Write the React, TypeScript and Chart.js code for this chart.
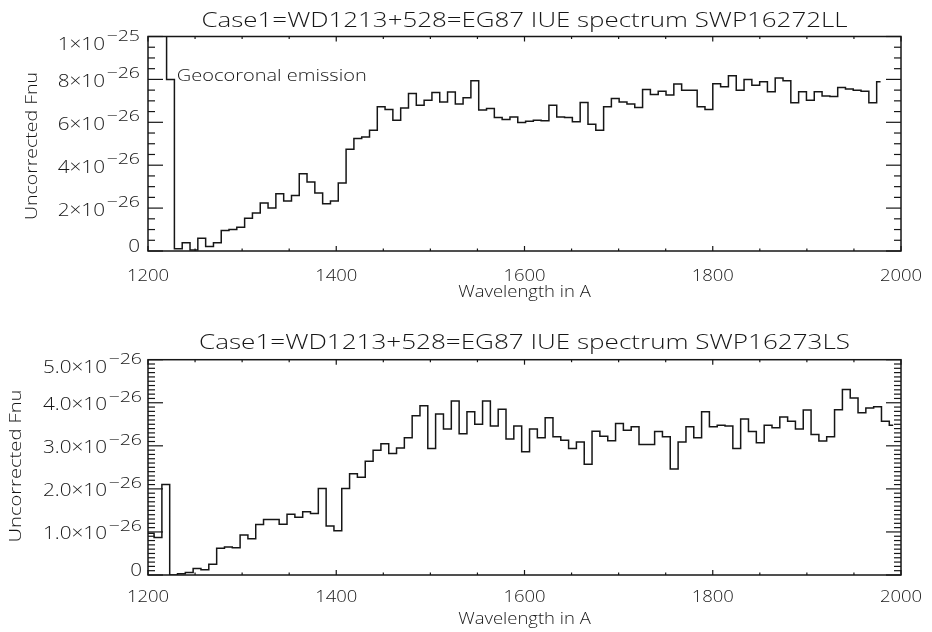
import React, { useEffect, useRef } from "react";
import { Chart, registerables } from "chart.js";

Chart.register(...registerables);

// ---- Data: SWP16272LL (top panel), bin centres in Angstrom, flux in units of 1e-26 ----
const WAVE_TOP = [
  1199.0, 1207.3, 1215.6, 1223.9,
  1232.2, 1240.5, 1248.8, 1257.1, 1265.4, 1273.7, 1281.9, 1290.2, 1298.5, 1306.8,
  1315.1, 1323.4, 1331.7, 1340.0, 1348.3, 1356.6, 1364.8, 1373.1, 1381.4, 1389.7,
  1398.0, 1406.3, 1414.6, 1422.9, 1431.2, 1439.5, 1447.7, 1456.0, 1464.3, 1472.6,
  1480.9, 1489.2, 1497.5, 1505.8, 1514.1, 1522.4, 1530.6, 1538.9, 1547.2, 1555.5,
  1563.8, 1572.1, 1580.4, 1588.7, 1597.0, 1605.3, 1613.5, 1621.8, 1630.1, 1638.4,
  1646.7, 1655.0, 1663.3, 1671.6, 1679.9, 1688.2, 1696.4, 1704.7, 1713.0, 1721.3,
  1729.6, 1737.9, 1746.2, 1754.5, 1762.8, 1771.1, 1779.3, 1787.6, 1795.9, 1804.2,
  1812.5, 1820.8, 1829.1, 1837.4, 1845.7, 1854.0, 1862.2, 1870.5, 1878.8, 1887.1,
  1895.4, 1903.7, 1912.0, 1920.3, 1928.6, 1936.9, 1945.1, 1953.4, 1961.7, 1970.0,
  1978.3,
];
const FLUX_TOP = [
  14, 14, 14, 8.0,
  0.1, 0.38, 0.05, 0.6, 0.21, 0.38, 0.96, 1.0, 1.11, 1.53,
  1.77, 2.24, 2.0, 2.67, 2.33, 2.59, 3.6, 3.22, 2.7, 2.2,
  2.33, 3.17, 4.74, 5.24, 5.32, 5.63, 6.72, 6.6, 6.1, 6.67,
  7.34, 6.8, 7.03, 7.39, 6.95, 7.41, 6.85, 7.14, 7.94, 6.57,
  6.64, 6.22, 6.13, 6.25, 5.99, 6.05, 6.1, 6.07, 6.8, 6.25,
  6.22, 6.02, 6.92, 5.91, 5.63, 6.72, 7.11, 6.95, 6.85, 6.69,
  7.53, 7.3, 7.45, 7.27, 7.78, 7.5, 7.5, 6.72, 6.6, 7.8,
  7.66, 8.17, 7.5, 8.0, 7.73, 7.89, 7.42, 8.07, 7.94, 6.91,
  7.42, 7.03, 7.42, 7.23, 7.2, 7.62, 7.55, 7.5, 7.45, 6.91,
  7.89,
];

// ---- Data: SWP16273LS (bottom panel) ----
const WAVE_BOTTOM = [
  1194.0, 1202.3, 1210.6, 1218.9,
  1227.2, 1235.5, 1243.8, 1252.1, 1260.4, 1268.8, 1277.1, 1285.4, 1293.7, 1302.0,
  1310.3, 1318.6, 1326.9, 1335.2, 1343.5, 1351.9, 1360.2, 1368.5, 1376.8, 1385.1,
  1393.4, 1401.7, 1410.0, 1418.3, 1426.6, 1435.0, 1443.3, 1451.6, 1459.9, 1468.2,
  1476.5, 1484.8, 1493.1, 1501.4, 1509.7, 1518.1, 1526.4, 1534.7, 1543.0, 1551.3,
  1559.6, 1567.9, 1576.2, 1584.5, 1592.8, 1601.2, 1609.5, 1617.8, 1626.1, 1634.4,
  1642.7, 1651.0, 1659.3, 1667.6, 1675.9, 1684.3, 1692.6, 1700.9, 1709.2, 1717.5,
  1725.8, 1734.1, 1742.4, 1750.7, 1759.0, 1767.4, 1775.7, 1784.0, 1792.3, 1800.6,
  1808.9, 1817.2, 1825.5, 1833.8, 1842.1, 1850.5, 1858.8, 1867.1, 1875.4, 1883.7,
  1892.0, 1900.3, 1908.6, 1916.9, 1925.2, 1933.6, 1941.9, 1950.2, 1958.5, 1966.8,
  1975.1, 1983.4, 1991.7,
];
const FLUX_BOTTOM = [
  0.97, 0.97, 0.87, 2.1,
  0, 0.03, 0.06, 0.15, 0.12, 0.25, 0.62, 0.65, 0.63, 0.93,
  0.84, 1.17, 1.29, 1.29, 1.18, 1.41, 1.34, 1.47, 1.43, 2.01,
  1.14, 1.03, 2.01, 2.35, 2.27, 2.64, 2.9, 3.05, 2.82, 2.95,
  3.19, 3.7, 3.93, 2.94, 3.74, 3.39, 4.04, 3.28, 3.79, 3.5,
  4.04, 3.46, 3.85, 3.16, 3.46, 2.86, 3.39, 3.19, 3.65, 3.21,
  3.13, 2.94, 3.09, 2.57, 3.34, 3.22, 3.12, 3.52, 3.36, 3.44,
  3.03, 3.03, 3.33, 3.21, 2.46, 3.09, 3.44, 3.19, 3.79, 3.44,
  3.48, 3.46, 2.94, 3.62, 3.33, 3.07, 3.48, 3.42, 3.67, 3.57,
  3.39, 3.83, 3.26, 3.11, 3.21, 3.84, 4.31, 4.11, 3.77, 3.88,
  3.91, 3.57, 3.48,
];

const X_TICKS = [1200, 1400, 1600, 1800, 2000];
const X_TICK_LABELS = ["1200", "1400", "1600", "1800", "2000"];
const Y_TICKS_TOP = [0, 2, 4, 6, 8, 10];
const Y_TICK_LABELS_TOP = [["0", ""], ["2×10", "−26"], ["4×10", "−26"], ["6×10", "−26"], ["8×10", "−26"], ["1×10", "−25"]];
const Y_TICKS_BOTTOM = [0, 1, 2, 3, 4, 5];
const Y_TICK_LABELS_BOTTOM = [["0", ""], ["1.0×10", "−26"], ["2.0×10", "−26"], ["3.0×10", "−26"], ["4.0×10", "−26"], ["5.0×10", "−26"]];

const TITLE_TOP = "Case1=WD1213+528=EG87 IUE spectrum SWP16272LL";
const TITLE_BOTTOM = "Case1=WD1213+528=EG87 IUE spectrum SWP16273LS";
const X_TITLE = "Wavelength in A";
const Y_TITLE = "Uncorrected Fnu";
const NOTE_TEXT = "Geocoronal emission";

const FONT = '"Open Sans", "DejaVu Sans", sans-serif';
const INK = "#161616";

type Align = "left" | "center" | "right";

function drawText(ctx: CanvasRenderingContext2D, s: string, x: number, y: number, size: number, align: Align, width?: number, stretch = 1.13) {
  ctx.font = `300 ${size}px ${FONT}`;
  const raw = ctx.measureText(s).width;
  const sx = width ? width / raw : stretch;
  const w = raw * sx;
  const x0 = align === "left" ? x : align === "center" ? x - w / 2 : x - w;
  ctx.save();
  ctx.translate(x0, y);
  ctx.scale(sx, 1);
  ctx.textAlign = "left";
  ctx.textBaseline = "alphabetic";
  ctx.fillText(s, 0, 0);
  ctx.restore();
  return w;
}

type PanelSpec = {
  title: string;
  titleWidth: number;
  titleBase: number;
  waves: number[];
  flux: number[];
  yMax: number;
  yTicks: number[];
  yLabels: string[][];
  yMinorStep: number;
  area: { left: number; right: number; top: number; bottom: number };
  height: number;
  xLabelBase: number;
  xTitleBase: number;
  yLabelRight: number;
  yTitleX: number;
  yTitleY: number;
  yTitleW: number;
  note?: { x: number; y: number; w: number };
};

const W = 932;

const PANELS: PanelSpec[] = [
  {
    title: TITLE_TOP, titleWidth: 646, titleBase: 26.7,
    waves: WAVE_TOP, flux: FLUX_TOP, yMax: 10, yTicks: Y_TICKS_TOP, yLabels: Y_TICK_LABELS_TOP, yMinorStep: 0.5,
    area: { left: 148, right: 901, top: 36.5, bottom: 251 }, height: 316,
    xLabelBase: 281, xTitleBase: 297, yLabelRight: 140, yTitleX: 37, yTitleY: 146, yTitleW: 148,
    note: { x: 176.7, y: 80.7, w: 190 },
  },
  {
    title: TITLE_BOTTOM, titleWidth: 651, titleBase: 33.3,
    waves: WAVE_BOTTOM, flux: FLUX_BOTTOM, yMax: 5, yTicks: Y_TICKS_BOTTOM, yLabels: Y_TICK_LABELS_BOTTOM, yMinorStep: 0.1,
    area: { left: 148, right: 901, top: 43.7, bottom: 259 }, height: 316,
    xLabelBase: 285.7, xTitleBase: 308, yLabelRight: 142, yTitleX: 21, yTitleY: 150, yTitleW: 153,
  },
];

function decorPlugin(p: PanelSpec) {
  return {
    id: "idlDecor",
    afterDraw(chart: any) {
      const ctx: CanvasRenderingContext2D = chart.ctx;
      const a = chart.chartArea;
      const xs = chart.scales.x;
      const ys = chart.scales.y;
      ctx.save();
      ctx.strokeStyle = INK;
      ctx.fillStyle = INK;
      ctx.lineWidth = 1.5;
      ctx.strokeRect(a.left, a.top, a.right - a.left, a.bottom - a.top);
      ctx.lineWidth = 1.2;
      const seg = (x1: number, y1: number, x2: number, y2: number) => {
        ctx.beginPath();
        ctx.moveTo(x1, y1);
        ctx.lineTo(x2, y2);
        ctx.stroke();
      };
      // x ticks (major at labels, minor every 50)
      for (let v = 1200; v <= 2000; v += 50) {
        const px = xs.getPixelForValue(v);
        const major = X_TICKS.includes(v);
        const len = major ? 5 : 2.5;
        seg(px, a.bottom, px, a.bottom - len);
        seg(px, a.top, px, a.top + len);
      }
      // y ticks
      const nMinor = Math.round(p.yMax / p.yMinorStep);
      for (let k = 0; k <= nMinor; k++) {
        const v = k * p.yMinorStep;
        const py = ys.getPixelForValue(v);
        const major = p.yTicks.some((t) => Math.abs(t - v) < 1e-6);
        const len = major ? 15 : 7;
        seg(a.left, py, a.left + len, py);
        seg(a.right, py, a.right - len, py);
      }
      // x tick labels
      X_TICKS.forEach((v, i) => {
        drawText(ctx, X_TICK_LABELS[i], xs.getPixelForValue(v), p.xLabelBase, 16.5, "center", undefined, 1.12);
      });
      // y tick labels with superscript exponent
      p.yTicks.forEach((v, i) => {
        const py = ys.getPixelForValue(v);
        const off = i === 0 ? 0.5 : i === p.yTicks.length - 1 ? 13 : 7.5;
        const base = py + off;
        const [main, exp] = p.yLabels[i];
        let right = p.yLabelRight;
        if (exp) {
          const ew = drawText(ctx, exp, right, base - 8.7, 14.5, "right", undefined, 1.35);
          right -= ew + 1.5;
        }
        drawText(ctx, main, right, base, 18, "right", undefined, 1.15);
      });
      // titles
      const cx = (a.left + a.right) / 2;
      drawText(ctx, p.title, cx, p.titleBase, 19.5, "center", p.titleWidth);
      drawText(ctx, X_TITLE, cx, p.xTitleBase, 16.5, "center", undefined, 1.12);
      ctx.save();
      ctx.translate(p.yTitleX, p.yTitleY);
      ctx.rotate(-Math.PI / 2);
      drawText(ctx, Y_TITLE, 0, 0, 16, "center", p.yTitleW);
      ctx.restore();
      if (p.note) drawText(ctx, NOTE_TEXT, p.note.x, p.note.y, 16.5, "left", p.note.w);
      ctx.restore();
    },
  };
}

function Panel({ spec }: { spec: PanelSpec }) {
  const ref = useRef<HTMLCanvasElement | null>(null);
  useEffect(() => {
    const canvas = ref.current;
    if (!canvas) return;
    const a = spec.area;
    const chart = new Chart(canvas, {
      type: "line",
      data: {
        datasets: [
          {
            data: spec.waves.map((x, i) => ({ x, y: spec.flux[i] })),
            stepped: "middle",
            borderColor: INK,
            borderWidth: 1.5,
            pointRadius: 0,
            fill: false,
          } as any,
        ],
      },
      options: {
        animation: false,
        responsive: false,
        maintainAspectRatio: false,
        devicePixelRatio: 1,
        events: [],
        layout: { padding: { left: 0, right: W - a.right, top: a.top, bottom: 0 } },
        plugins: { legend: { display: false }, tooltip: { enabled: false }, title: { display: false } },
        scales: {
          x: {
            type: "linear", min: 1200, max: 2000,
            ticks: { display: false }, grid: { display: false }, border: { display: false },
            afterFit: (s: any) => { s.height = spec.height - a.bottom; },
          },
          y: {
            type: "linear", min: 0, max: spec.yMax,
            ticks: { display: false }, grid: { display: false }, border: { display: false },
            afterFit: (s: any) => { s.width = a.left; },
          },
        },
      } as any,
      plugins: [decorPlugin(spec)],
    });
    return () => chart.destroy();
  }, [spec]);
  return <canvas ref={ref} width={W} height={spec.height} style={{ display: "block", width: W, height: spec.height }} />;
}

export default function App() {
  return (
    <div style={{ position: "absolute", left: 0, top: 0, width: W, height: 632, background: "#fff" }}>
      {PANELS.map((p, i) => (
        <Panel key={i} spec={p} />
      ))}
    </div>
  );
}
